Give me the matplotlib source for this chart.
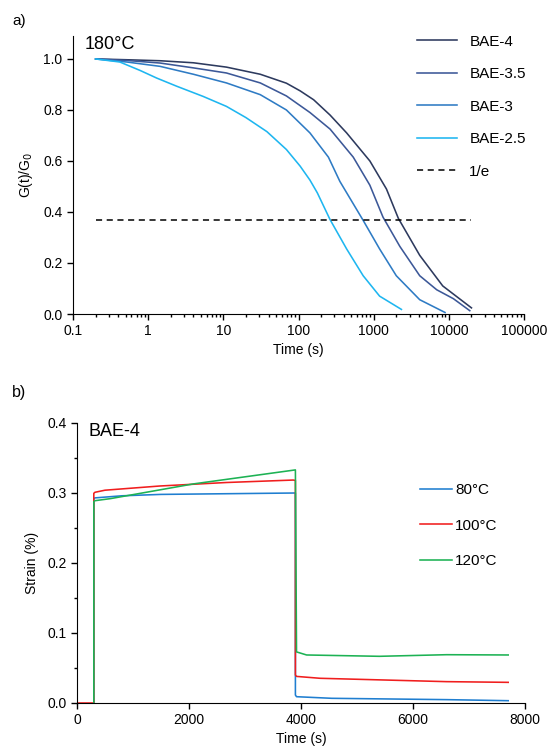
import numpy as np
import matplotlib
matplotlib.use('Agg')
import matplotlib.pyplot as plt
from matplotlib.ticker import LogLocator, NullFormatter, FixedLocator

plt.rcParams['font.family'] = ['Liberation Sans', 'DejaVu Sans']
plt.rcParams['font.size'] = 10

### data: a) stress relaxation at 180 C
t_25 = [0.2, 0.42, 0.78, 1.3, 2.4, 5.4, 11, 20, 38, 69, 105, 142, 178,
        263, 437, 725, 1200, 2340]
g_25 = [1.0, 0.988, 0.955, 0.925, 0.893, 0.853, 0.814, 0.77, 0.715, 0.645,
        0.58, 0.525, 0.475, 0.37, 0.255, 0.15, 0.07, 0.018]

t_3 = [0.2, 0.52, 1.44, 4, 11, 31, 69, 142, 250, 355, 725, 1200, 2000,
       4100, 8900]
g_3 = [1.0, 0.988, 0.971, 0.94, 0.906, 0.86, 0.8, 0.71, 0.615, 0.52,
       0.367, 0.255, 0.15, 0.056, 0.006]

t_35 = [0.2, 0.52, 1.44, 4, 11, 31, 69, 142, 263, 535, 890, 1330,
        2230, 4100, 6900, 11500, 19000]
g_35 = [1.0, 0.994, 0.984, 0.965, 0.945, 0.906, 0.855, 0.79, 0.725, 0.615,
        0.505, 0.38, 0.265, 0.15, 0.095, 0.06, 0.013]

t_4 = [0.2, 0.5, 1.44, 4, 11, 31, 69, 105, 159, 263, 437, 890, 1480, 2130,
       4100, 8300, 20000]
g_4 = [1.0, 0.997, 0.993, 0.985, 0.968, 0.94, 0.905, 0.875, 0.84, 0.78,
       0.71, 0.6, 0.49, 0.375, 0.23, 0.11, 0.024]

t_inv_e = [0.2, 20000]

### data: b) creep of BAE-4
t_80 = [300, 300, 320, 800, 1500, 3900, 3900, 3920, 4550, 6600, 7700]
s_80 = [0, 0.292, 0.293, 0.296, 0.298, 0.300, 0.0114, 0.009, 0.0067,
        0.0048, 0.0033]

t_100 = [0, 300, 300, 320, 500, 1480, 2670, 3860, 3900, 3900, 3920, 4340,
         6600, 7700]
s_100 = [0, 0, 0.2995, 0.301, 0.304, 0.310, 0.315, 0.3185, 0.318, 0.040,
         0.038, 0.0353, 0.0305, 0.0295]

t_120 = [300, 300, 320, 600, 2080, 3900, 3900, 3920, 4100, 5400, 6600,
         7700]
s_120 = [0, 0.2876, 0.289, 0.292, 0.313, 0.333, 0.333, 0.073, 0.0686,
         0.0667, 0.069, 0.0686]

fig = plt.figure(figsize=(5.5, 7.5), dpi=100)

# panel a
ax1 = fig.add_axes([73 / 550, 1 - 314 / 750, 451 / 550, 278 / 750])
ax1.plot(t_4, g_4, color='#2D3A5E', lw=1.15, label='BAE-4')
ax1.plot(t_35, g_35, color='#3C5898', lw=1.15, label='BAE-3.5')
ax1.plot(t_3, g_3, color='#2E7BC4', lw=1.15, label='BAE-3')
ax1.plot(t_25, g_25, color='#1EB6F0', lw=1.15, label='BAE-2.5')
ax1.plot(t_inv_e, [np.exp(-1)] * 2, color='black', lw=1.1,
         linestyle=(0, (4, 3)), label='1/e')
ax1.set_xscale('log')
ax1.set_xlim(0.1, 100000)
ax1.set_ylim(0, 1.09)
ax1.set_yticks([0, 0.2, 0.4, 0.6, 0.8, 1.0])
ax1.set_yticklabels(['0.0', '0.2', '0.4', '0.6', '0.8', '1.0'])
ax1.set_xticks([0.1, 1, 10, 100, 1000, 10000, 100000])
ax1.set_xticklabels(['0.1', '1', '10', '100', '1000', '10000', '100000'])
ax1.xaxis.set_minor_locator(LogLocator(base=10, subs=np.arange(2, 10)))
ax1.xaxis.set_minor_formatter(NullFormatter())
ax1.set_xlabel('Time (s)', labelpad=3)
ax1.set_ylabel('G(t)/G$_0$', labelpad=6)
ax1.text(0.025, 1.0, '180°C', transform=ax1.transAxes, fontsize=13,
         va='top', ha='left')
ax1.legend(loc='upper left', bbox_to_anchor=(0.75, 1.027), frameon=False,
           fontsize=11, handlelength=2.6, handletextpad=0.8,
           labelspacing=1.21, borderaxespad=0)
fig.text(12 / 550, 1 - 21 / 750, 'a)', fontsize=11, va='center')

# panel b
ax2 = fig.add_axes([77 / 550, 1 - 703 / 750, 448 / 550, 280 / 750])
ax2.plot(t_80, s_80, color='#1F7ED0', lw=1.15, label='80°C')
ax2.plot(t_100, s_100, color='#F01E1E', lw=1.15, label='100°C')
ax2.plot(t_120, s_120, color='#1DB254', lw=1.15, label='120°C')
ax2.set_xlim(0, 8000)
ax2.set_ylim(0, 0.4)
ax2.set_xticks([0, 2000, 4000, 6000, 8000])
ax2.set_yticks([0, 0.1, 0.2, 0.3, 0.4])
ax2.set_yticklabels(['0.0', '0.1', '0.2', '0.3', '0.4'])
ax2.yaxis.set_minor_locator(FixedLocator([0.05, 0.15, 0.25, 0.35]))
ax2.set_xlabel('Time (s)', labelpad=3)
ax2.set_ylabel('Strain (%)', labelpad=6)
ax2.text(0.025, 1.0, 'BAE-4', transform=ax2.transAxes, fontsize=13,
         va='top', ha='left')
ax2.legend(loc='upper left', bbox_to_anchor=(0.752, 0.806), frameon=False,
           fontsize=11, handlelength=2.1, handletextpad=0.2,
           labelspacing=1.39, borderaxespad=0)
fig.text(12 / 550, 1 - 393 / 750, 'b)', fontsize=11.5, va='center')

for ax in (ax1, ax2):
    ax.spines['top'].set_visible(False)
    ax.spines['right'].set_visible(False)
    ax.tick_params(which='major', direction='out', length=4, width=1,
                   labelsize=10)
    ax.tick_params(which='minor', direction='out', length=2.5, width=1)

fig.savefig('out.png', dpi=100)
